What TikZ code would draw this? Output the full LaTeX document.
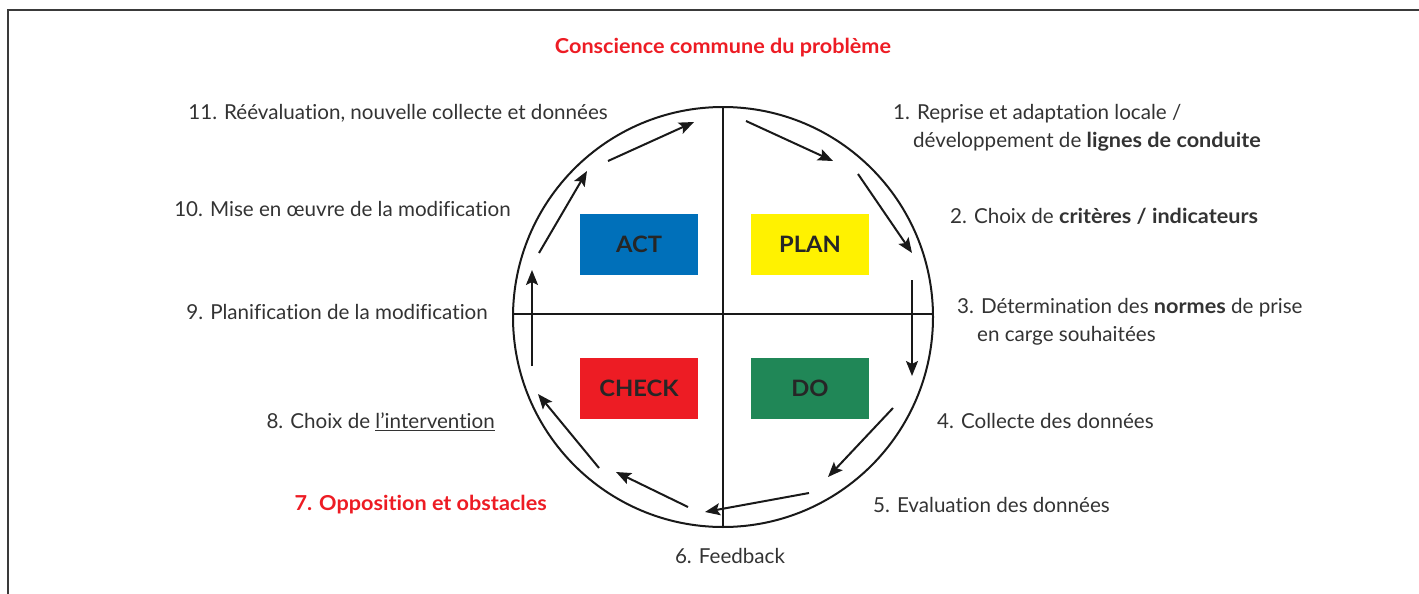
\documentclass[tikz,border=0pt]{standalone}
\usepackage{fontspec}
\setmainfont{Lato}[Ligatures=NoCommon, BoldFeatures={FakeStretch=1.05}]
\usetikzlibrary{arrows.meta}
\definecolor{txt}{HTML}{333333}
\definecolor{pdcared}{HTML}{ED1C24}
\definecolor{actblue}{HTML}{0070BA}
\definecolor{planyellow}{HTML}{FFF200}
\definecolor{dogreen}{HTML}{208757}
\definecolor{framegray}{HTML}{3A3A3A}
\tikzset{
  label/.style={inner sep=0pt, text=txt, font=\fontsize{20.6}{24}\selectfont},
  redlabel/.style={inner sep=0pt, text=pdcared, font=\fontsize{20.6}{24}\selectfont\bfseries},
  phase/.style={minimum width=118pt, minimum height=61pt, inner sep=0pt,
    text=black!85, font=\fontsize{22.6}{26}\selectfont\bfseries},
  flow/.style={line width=2pt, draw=black!90,
    -{Stealth[length=15pt,width=12pt,inset=3pt]}},
  ring/.style={line width=2pt, draw=black!90},
}
\begin{document}
\begin{tikzpicture}[x=1pt,y=-1pt]
  \useasboundingbox (0,0) rectangle (1419,594);
  % outer frame (open on the right and bottom)
  \draw[framegray, line width=1.6pt] (8,594) -- (8,10) -- (1419,10);

  % cycle: circle split into four quadrants
  \coordinate (c) at (723,317);
  \draw[ring] (c) circle[radius=210pt];
  \draw[ring] (723,107) -- (723,527);
  \draw[ring] (513,314) -- (933,314);

  % phase boxes
  \node[phase, fill=actblue]    (act)   at (639,244.5) {ACT};
  \node[phase, fill=planyellow] (plan)  at (810,244.5) {PLAN};
  \node[phase, fill=pdcared]    (check) at (639,388.5) {CHECK};
  \node[phase, fill=dogreen]    (do)    at (810,388.5) {DO};

  % arrow end points around the ring
  \coordinate (a1s) at (746,121);  \coordinate (a1e) at (833,161);
  \coordinate (a2s) at (858,174);  \coordinate (a2e) at (912,253);
  \coordinate (a3s) at (912,280);  \coordinate (a3e) at (912,376);
  \coordinate (a4s) at (893,408);  \coordinate (a4e) at (828,477);
  \coordinate (a5s) at (809,493);  \coordinate (a5e) at (705,512);
  \coordinate (a6s) at (688,507);  \coordinate (a6e) at (616,472);
  \coordinate (a7s) at (599,468);  \coordinate (a7e) at (538,394);
  \coordinate (a8s) at (532,366);  \coordinate (a8e) at (532,270);
  \coordinate (a9s) at (539,253);  \coordinate (a9e) at (587,171);
  \coordinate (a10s) at (608,161); \coordinate (a10e) at (694,122);
  \foreach \i in {1,...,10} \draw[flow] (a\i s) -- (a\i e);

  % labels
  \node[redlabel] (title) at (723,47.5) {Conscience commune du problème};
  \node[label, anchor=mid west] (s1a) at (893,117) {1. Reprise et adaptation locale /};
  \node[label, anchor=mid west] (s1b) at (913,145) {développement de \textbf{lignes de conduite}};
  \node[label, anchor=mid west] (s2) at (950,221) {2. Choix de \textbf{critères / indicateurs}};
  \node[label, anchor=mid west] (s3a) at (957,311) {3. Détermination des \textbf{normes} de prise};
  \node[label, anchor=mid west] (s3b) at (977,339) {en carge souhaitées};
  \node[label, anchor=mid west] (s4) at (937,426) {4. Collecte des données};
  \node[label, anchor=mid west] (s5) at (873,510) {5. Evaluation des données};
  \node[label] (s6) at (730,556) {6. Feedback};
  \node[redlabel, anchor=mid east] (s7) at (547,508) {7. Opposition et obstacles};
  \node[label, anchor=mid east] (s8) at (495,426) {8. Choix de \underline{l’intervention}};
  \node[label, anchor=mid east] (s9) at (488,317) {9. Planification de la modification};
  \node[label, anchor=mid east] (s10) at (511,214) {10. Mise en œuvre de la modification};
  \node[label, anchor=mid east] (s11) at (608,117) {11. Réévaluation, nouvelle collecte et données};
\end{tikzpicture}
\end{document}
